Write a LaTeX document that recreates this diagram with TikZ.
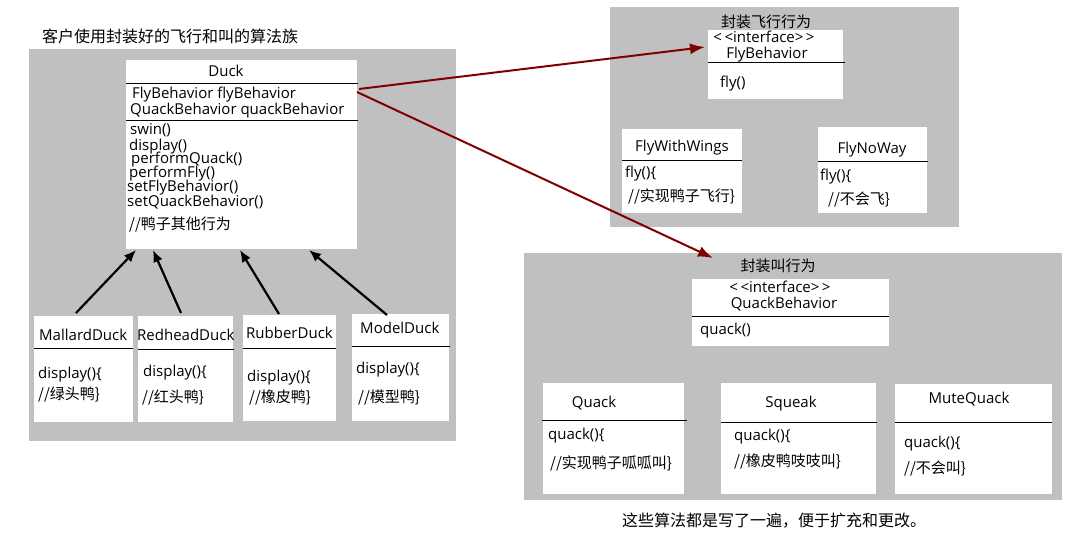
\documentclass[tikz,border=0pt]{standalone}
\usepackage{fontspec}
\setmainfont{Open Sans}
\newfontfamily\cjk{Noto Sans CJK SC}
\usetikzlibrary{arrows.meta,calc}
\definecolor{panelgray}{HTML}{C0C0C0}
\definecolor{arrowred}{HTML}{800000}
\begin{document}
\begin{tikzpicture}[x=1pt,y=-1pt,
  panel/.style={fill=panelgray},
  cls/.style={fill=white,draw=none,inner sep=0pt,outer sep=0pt,anchor=north west},
  lbl/.style={inner sep=0pt,anchor=west,text height=11pt,text depth=0pt,font=\fontsize{15}{18}\selectfont},
  clbl/.style={lbl,anchor=center},
  cjklbl/.style={lbl,font=\cjk\fontsize{15}{18}\selectfont},
  cjkclbl/.style={cjklbl,anchor=center},
  bigcjk/.style={lbl,font=\cjk\fontsize{16}{19}\selectfont},
  div/.style={draw=black,line width=1pt},
  inh/.style={draw=black,line width=2.2pt,-{Latex[length=12pt,width=10pt]}},
  assoc/.style={draw=arrowred,line width=2pt,-{Latex[length=15pt,width=11pt]}},
]
\useasboundingbox (0,0) rectangle (1081,537);
\fill[white] (0,0) rectangle (1081,537);

% panels
\fill[panel] (29,49) rectangle (456,441);
\fill[panel] (610,7) rectangle (959,227);
\fill[panel] (524,253) rectangle (1062,500);

\node[bigcjk] (title) at (42,37) {客户使用封装好的飞行和叫的算法族};
\node[bigcjk] (note) at (622,521) {这些算法都是写了一遍，便于扩充和更改。};
\node[cjkclbl] (flytitle) at (766,22) {封装飞行行为};
\node[cjkclbl] (quacktitle) at (778,266) {封装叫行为};

% Duck
\node[cls,minimum width=231pt,minimum height=189pt] (duck) at (126,60) {};
\draw[div] (duck.west |- 0,84) -- ([xshift=1pt]duck.east |- 0,84);
\draw[div] (duck.west |- 0,121) -- ([xshift=1pt]duck.east |- 0,121);
\node[clbl] (duckname) at (226,71) {Duck};
\node[lbl] (dattr1) at (132,93) {FlyBehavior flyBehavior};
\node[lbl] (dattr2) at (130,109) {QuackBehavior quackBehavior};
\node[lbl] (dm1) at (130,129) {swin()};
\node[lbl] (dm2) at (129,145) {display()};
\node[lbl] (dm3) at (131,158) {performQuack()};
\node[lbl] (dm4) at (129,172) {performFly()};
\node[lbl] (dm5) at (127,186) {setFlyBehavior()};
\node[lbl] (dm6) at (127,201) {setQuackBehavior()};
\node[cjklbl] (dm7) at (129,224) {//鸭子其他行为};

% Duck subclasses
\node[cls,minimum width=99pt,minimum height=106pt] (mallard) at (34,316) {};
\draw[div] (mallard.west |- 0,348) -- (mallard.east |- 0,348);
\node[lbl] (mallardname) at (39,335) {MallardDuck};
\node[lbl] (mallardm) at (38,373) {display()\{};
\node[cjklbl] (mallardc) at (38,394) {//绿头鸭\}};

\node[cls,minimum width=95pt,minimum height=106pt] (redhead) at (138,316) {};
\draw[div] (redhead.west |- 0,349) -- ([xshift=1pt]redhead.east |- 0,349);
\node[lbl] (redheadname) at (137,335) {RedheadDuck};
\node[lbl] (redheadm) at (143,371) {display()\{};
\node[cjklbl] (redheadc) at (142,397) {//红头鸭\}};

\node[cls,minimum width=93pt,minimum height=106pt] (rubber) at (243,315) {};
\draw[div] (rubber.west |- 0,348) -- (rubber.east |- 0,348);
\node[lbl] (rubbername) at (246,333) {RubberDuck};
\node[lbl] (rubberm) at (247,376) {display()\{};
\node[cjklbl] (rubberc) at (249,397) {//橡皮鸭\}};

\node[cls,minimum width=97pt,minimum height=107pt] (model) at (352,314) {};
\draw[div] (model.west |- 0,346) -- ([xshift=1pt]model.east |- 0,346);
\node[lbl] (modelname) at (360,328) {ModelDuck};
\node[lbl] (modelm) at (356,368) {display()\{};
\node[cjklbl] (modelc) at (358,397) {//模型鸭\}};

% FlyBehavior
\node[cls,minimum width=135pt,minimum height=69pt] (flybeh) at (708,30) {};
\draw[div] (flybeh.west |- 0,63) -- ([xshift=2pt]flybeh.east |- 0,63);
\node[clbl] (flyif) at (764,37) {<\,<interface>\,>};
\node[clbl] (flyname) at (767,53) {FlyBehavior};
\node[lbl] (flym) at (720,82) {fly()};

\node[cls,minimum width=120pt,minimum height=84pt] (flywings) at (622,129) {};
\draw[div] (flywings.west |- 0,161) -- (flywings.east |- 0,161);
\node[clbl] (flywingsname) at (682,146) {FlyWithWings};
\node[lbl] (flywingsm) at (625,172) {fly()\{};
\node[cjklbl] (flywingsc) at (628,196) {//实现鸭子飞行\}};

\node[cls,minimum width=109pt,minimum height=86pt] (flynoway) at (818,127) {};
\draw[div] (flynoway.west |- 0,162) -- ([xshift=1pt]flynoway.east |- 0,162);
\node[clbl] (flynowayname) at (872,148) {FlyNoWay};
\node[lbl] (flynowaym) at (820,175) {fly()\{};
\node[cjklbl] (flynowayc) at (828,199) {//不会飞\}};

% QuackBehavior
\node[cls,minimum width=197pt,minimum height=67pt] (quackbeh) at (692,279) {};
\draw[div] (quackbeh.west |- 0,316) -- (quackbeh.east |- 0,316);
\node[clbl] (quackif) at (780,287) {<\,<interface>\,>};
\node[clbl] (quackname) at (784,303) {QuackBehavior};
\node[lbl] (quackm) at (700,329) {quack()};

\node[cls,minimum width=141pt,minimum height=111pt] (quack) at (543,383) {};
\draw[div] ([xshift=-1pt]quack.west |- 0,420) -- ([xshift=3pt]quack.east |- 0,420);
\node[clbl] (quackcname) at (594,402) {Quack};
\node[lbl] (quackcm) at (548,434) {quack()\{};
\node[cjklbl] (quackcc) at (550,463) {//实现鸭子呱呱叫\}};

\node[cls,minimum width=155pt,minimum height=111pt] (squeak) at (721,383) {};
\draw[div] (squeak.west |- 0,422) -- ([xshift=1pt]squeak.east |- 0,422);
\node[clbl] (squeakname) at (791,402) {Squeak};
\node[lbl] (squeakm) at (734,435) {quack()\{};
\node[cjklbl] (squeakc) at (734,461) {//橡皮鸭吱吱叫\}};

\node[cls,minimum width=157pt,minimum height=110pt] (mute) at (895,384) {};
\draw[div] (mute.west |- 0,422) -- (mute.east |- 0,422);
\node[clbl] (mutename) at (969,398) {MuteQuack};
\node[lbl] (mutem) at (904,442) {quack()\{};
\node[cjklbl] (mutec) at (904,468) {//不会叫\}};

% inheritance arrows
\draw[inh] ($(mallard.north west)+(42,-3)$) -- ($(duck.south west)+(10,1)$);
\draw[inh] ($(redhead.north west)+(43,-3)$) -- ($(duck.south west)+(27,1)$);
\draw[inh] ($(rubber.north west)+(36,-1)$) -- ($(duck.south west)+(114,1)$);
\draw[inh] ($(model.north west)+(35,1)$) -- ($(duck.south west)+(183,1)$);

% association arrows
\draw[assoc] ($(duck.north east)+(2,29)$) -- ($(flybeh.north west)+(-3,17)$);
\draw[assoc] ($(duck.north east)+(0,32)$) -- ($(quackbeh.north west)+(21,-21)$);
\end{tikzpicture}
\end{document}
